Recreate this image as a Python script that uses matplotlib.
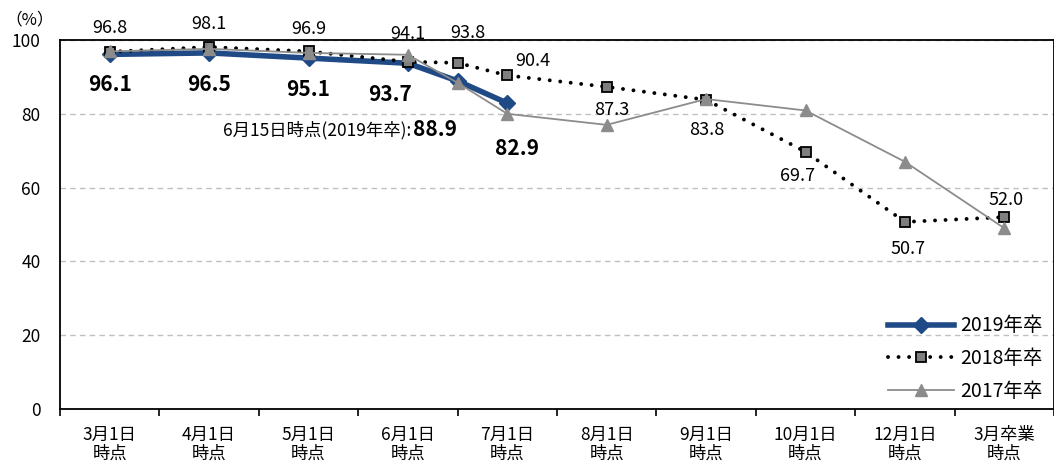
import matplotlib.pyplot as plt
import numpy as np

plt.rcParams['font.family'] = ['Noto Sans CJK JP', 'DejaVu Sans']

# 時点（6月15日時点は6月1日と7月1日の間）
categories = ['3月1日\n時点', '4月1日\n時点', '5月1日\n時点', '6月1日\n時点', '7月1日\n時点',
              '8月1日\n時点', '9月1日\n時点', '10月1日\n時点', '12月1日\n時点', '3月卒業\n時点']
x_2019 = [0, 1, 2, 3, 3.5, 4]
x_all = [0, 1, 2, 3, 3.5, 4, 5, 6, 7, 8, 9]

rate_2019 = [96.1, 96.5, 95.1, 93.7, 88.9, 82.9]
rate_2018 = [96.8, 98.1, 96.9, 94.1, 93.8, 90.4, 87.3, 83.8, 69.7, 50.7, 52.0]
rate_2017 = [96.9, 97.6, 96.5, 96.0, 88.4, 80.0, 77.0, 84.0, 80.9, 67.0, 49.0]

# ラベルのずらし量（ピクセル）
offsets_2019 = [(0, -30), (0, -32), (0, -31), (-18, -31), None, (10, -45)]
offsets_2018 = [(0, 24), (0, 23), (0, 22), (0, 28), (10, 30), (26, 14),
                (5, -23), (1, -30), (-8, -24), (3, -27), (2, 17)]

NAVY = '#1F4A86'
GRAY = '#8C8C8C'

fig = plt.figure(figsize=(10.54, 4.63), dpi=100)
ax = fig.add_axes([60 / 1054, 1 - 409 / 463, 994 / 1054, 369 / 463])

ax.plot(x_2019, rate_2019, color=NAVY, lw=4.0, marker='D', markersize=8.5,
        label='2019年卒', zorder=3)
ax.plot(x_all, rate_2018, color='black', lw=2.8, linestyle=(0, (0.01, 2.7)),
        dash_capstyle='round', marker='s', markersize=7, markerfacecolor='#7F7F7F',
        markeredgecolor='black', markeredgewidth=1.3, label='2018年卒', zorder=4)
ax.plot(x_all, rate_2017, color=GRAY, lw=1.3, marker='^', markersize=8,
        markeredgecolor=GRAY, label='2017年卒', zorder=5)

for xv, yv, off in zip(x_2019, rate_2019, offsets_2019):
    if off is None:
        continue
    ax.annotate(f'{yv:.1f}', (xv, yv), xytext=off, textcoords='offset pixels',
                ha='center', va='center', fontsize=15, fontweight='bold', zorder=6)

# 6月15日時点の注記
ax.annotate('6月15日時点(2019年卒):', (x_2019[4], rate_2019[4]), xytext=(-46, -49),
            textcoords='offset pixels', ha='right', va='center', fontsize=12.5)
ax.annotate(f'{rate_2019[4]:.1f}', (x_2019[4], rate_2019[4]), xytext=(-45, -49),
            textcoords='offset pixels', ha='left', va='center', fontsize=15,
            fontweight='bold')

for xv, yv, off in zip(x_all, rate_2018, offsets_2018):
    ax.annotate(f'{yv:.1f}', (xv, yv), xytext=off, textcoords='offset pixels',
                ha='center', va='center', fontsize=13, annotation_clip=False)

ax.set_xlim(-0.5, 9.5)
ax.set_ylim(0, 100)
ax.set_yticks(np.arange(0, 101, 20))
ax.tick_params(axis='y', length=0, labelsize=12.5, pad=14)
ax.yaxis.grid(True, color='#C0C0C0', linestyle=(0, (4, 3)), lw=1)
ax.set_axisbelow(True)

ax.set_xticks(np.arange(-0.5, 10, 1))
ax.set_xticklabels([])
ax.set_xticks(np.arange(len(categories)), minor=True)
ax.set_xticklabels(categories, minor=True, fontsize=12.5, linespacing=1.05)
ax.tick_params(axis='x', which='major', length=5, width=1.2, direction='out')
ax.tick_params(axis='x', which='minor', length=0, pad=12)

for sp in ax.spines.values():
    sp.set_color('black')
    sp.set_linewidth(1.3)

fig.text(30 / 1054, 1 - 20 / 463, '（%）', ha='center', va='center', fontsize=12)

ax.legend(loc='lower right', bbox_to_anchor=(1.0, -0.012), frameon=False, fontsize=14,
          handlelength=3.4, labelspacing=0.6, handletextpad=0.3, borderaxespad=0.2)

fig.savefig('out.png', dpi=100)
